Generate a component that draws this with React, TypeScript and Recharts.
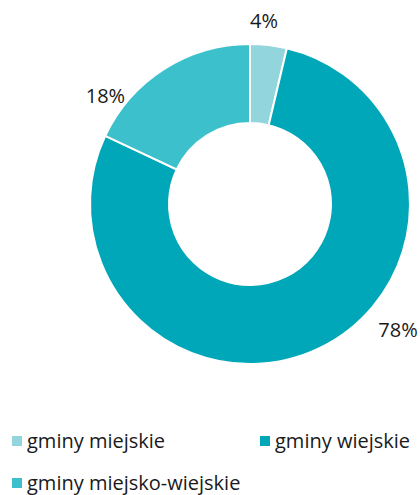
import React from 'react';
import { PieChart, Pie, Cell, Legend } from 'recharts';

const categories = ['gminy miejskie', 'gminy wiejskie', 'gminy miejsko-wiejskie'];
const values = [3.7, 78.3, 18.0];
const labels = ['4%', '78%', '18%'];
const colors = ['#93d5dd', '#00a7b8', '#3cc1cc'];

const data = categories.map((name, i) => ({ name, value: values[i], label: labels[i] }));

const FONT = '"Open Sans", "Noto Sans", sans-serif';
const RAD = Math.PI / 180;
// label placement tweaks (angle shift in degrees, extra radius)
const labelShift = [2.3, 24, 20.6];
const labelExtra = [24, 34, 21];

const renderLabel = (props: any) => {
  const { cx, cy, midAngle, outerRadius, index } = props;
  const a = (midAngle + labelShift[index]) * RAD;
  const r = outerRadius + labelExtra[index];
  const x = cx + r * Math.cos(a);
  const y = cy - r * Math.sin(a);
  return (
    <text x={x} y={y} textAnchor="middle" dominantBaseline="central" fill="#1a1a1a" fontSize={20} fontFamily={FONT}>
      {data[index].label}
    </text>
  );
};

const renderLegend = (props: any) => {
  const payload = props.payload || [];
  const pos = [
    { left: 12, top: 0 },
    { left: 260, top: 0 },
    { left: 12, top: 42 },
  ];
  const ordered = categories.map((c) => payload.find((p: any) => p.value === c)).filter(Boolean);
  return (
    <div style={{ position: 'relative', width: 420, height: 70 }}>
      {ordered.map((p: any, i: number) => (
        <div
          key={i}
          style={{
            position: 'absolute',
            left: pos[i].left,
            top: pos[i].top,
            display: 'flex',
            alignItems: 'center',
            fontFamily: FONT,
            fontSize: 20,
            color: '#1a1a1a',
            whiteSpace: 'nowrap',
            lineHeight: '24px',
          }}
        >
          <span style={{ display: 'inline-block', width: 10, height: 10, background: p.color, marginRight: 5 }} />
          {p.value}
        </div>
      ))}
    </div>
  );
};

export default function App() {
  return (
    <div style={{ position: 'absolute', left: 0, top: 0, width: 420, height: 495, background: '#fff' }}>
      <PieChart width={420} height={495} margin={{ top: 0, right: 0, bottom: 0, left: 0 }}>
        <Pie
          data={data}
          dataKey="value"
          nameKey="name"
          cx={250}
          cy={204}
          innerRadius={81}
          outerRadius={160}
          startAngle={90}
          endAngle={-270}
          stroke="#ffffff"
          strokeWidth={2}
          label={renderLabel}
          labelLine={false}
          isAnimationActive={false}
        >
          {data.map((d, i) => (
            <Cell key={d.name} fill={colors[i]} />
          ))}
        </Pie>
        <Legend
          content={renderLegend}
          wrapperStyle={{ position: 'absolute', left: 0, top: 429, width: 420 }}
        />
      </PieChart>
    </div>
  );
}
